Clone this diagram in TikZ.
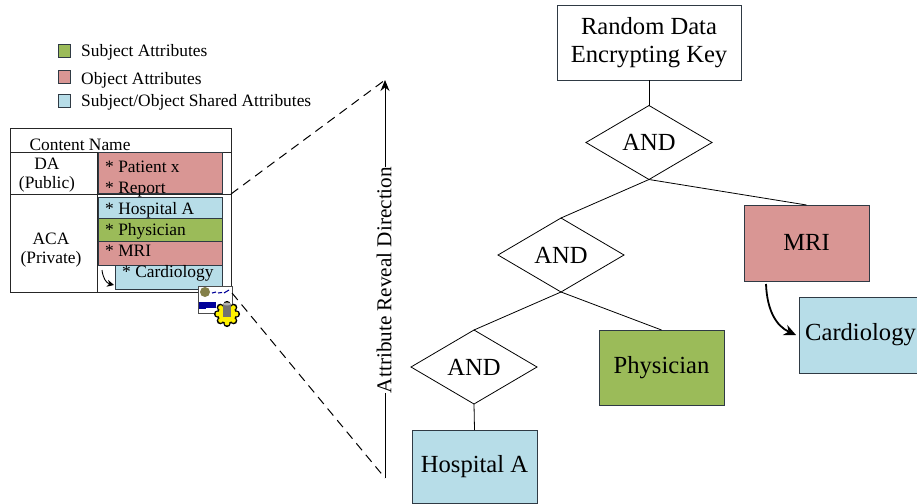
\documentclass[tikz,border=0pt]{standalone}
\usepackage{fontspec}
\setmainfont{Liberation Serif}
\usetikzlibrary{shapes.geometric,arrows.meta}
\definecolor{subj}{HTML}{9BBB59}
\definecolor{obj}{HTML}{D99694}
\definecolor{shared}{HTML}{B7DDE8}
\definecolor{edge}{HTML}{2F3A44}
\newcommand{\bigtxt}{\fontsize{24.6}{28}\selectfont}
\newcommand{\smalltxt}{\fontsize{17.4}{19}\selectfont}
\tikzset{
  bigbox/.style={draw=edge,line width=1pt,outer sep=0,inner sep=0,align=center,font=\bigtxt},
  andgate/.style={draw=black,line width=.8pt,shape=diamond,shape aspect=1.7,minimum width=126pt,minimum height=74pt,inner sep=0,outer sep=0,font=\bigtxt},
  wire/.style={draw=black,line width=.8pt},
  swatch/.style={draw=edge,line width=1pt,minimum width=12pt,minimum height=13pt,inner sep=0,outer sep=0},
  legendtxt/.style={anchor=west,inner sep=0,font=\smalltxt},
  celltxt/.style={anchor=west,inner sep=0,font=\smalltxt},
  headtxt/.style={align=center,inner sep=0,font=\smalltxt},
  attr/.style={draw=edge,line width=1pt,anchor=north west,inner sep=0,outer sep=0},
  curvearrow/.style={line width=1.8pt,-{Stealth[length=12pt,width=11pt]}},
}
\begin{document}
\begin{tikzpicture}[x=1pt,y=-1pt]
\useasboundingbox (0,0) rectangle (917,503);
% legend
\node[swatch,fill=subj] (ls) at (64,51) {};
\node[swatch,fill=obj] (lo) at (64,76.5) {};
\node[swatch,fill=shared] (lh) at (64,100.5) {};
\node[legendtxt] (tls) at (81,52) {Subject Attributes};
\node[legendtxt] (tlo) at (81,80) {Object Attributes};
\node[legendtxt] (tlh) at (81,102) {Subject/Object Shared Attributes};
% table
\draw[line width=1pt,draw=black!85] (10,128) rectangle (231,292);
\draw[line width=1pt,draw=black!85] (10,152) -- (231,152) (10,194) -- (231,194) (97.5,152) -- (97.5,293);
\node[headtxt] (cn) at (80,145) {Content Name};
\node[headtxt] (da) at (47,175) {DA\\(Public)};
\node[headtxt] (aca) at (51,250.5) {ACA\\(Private)};
\path[attr,fill=obj] (98,152) rectangle (222,193);
\path[attr,fill=shared] (98,197) rectangle (222,218);
\path[attr,fill=subj] (98,218) rectangle (222,241);
\path[attr,fill=obj] (98,241) rectangle (222,265);
\path[attr,fill=shared] (115,265) rectangle (222,289);
\node[celltxt] (t1) at (105,166.5) {* Patient x};
\node[celltxt] (t2) at (105,189.5) {* Report};
\node[celltxt] (t3) at (105,210) {* Hospital A};
\node[celltxt] (t4) at (105,231) {* Physician};
\node[celltxt] (t5) at (105,251) {* MRI};
\node[celltxt] (t6) at (122,273.5) {* Cardiology};
\coordinate (sa) at (102,270);
\coordinate (sb) at (114,285);
\draw[line width=.9pt,-{Stealth[length=7pt,width=7pt]}] (sa) .. controls (103,278) and (106,283) .. (sb);
% icon
\draw[line width=.5pt,fill=white,draw=black!70] (198,286) rectangle (232,313);
\fill[black!40!yellow!75!black] (205,292) circle (5pt);
\fill[blue!60!black] (199,302) rectangle (216,308);
\fill[blue!60!black] (206,302) rectangle (199,309);
\draw[blue!60!black,line width=1.1pt] (212,293) -- (216,292) (218,293) -- (222,292.5) (224,293) -- (229,290);
% gear
\foreach \a in {0,45,...,315}{\fill[black] (227,314) ++(\a:9.5) circle (3.6pt);}
\fill[black] (227,314) circle (10pt);
\foreach \a in {0,45,...,315}{\fill[yellow] (227,314) ++(\a:9) circle (2.4pt);}
\fill[yellow] (227,314) circle (8.5pt);
\fill[black!55] (223,304) rectangle (231,317);
\fill[black!30] (227,304) ellipse (4pt and 1.5pt);
% tree
\node[bigbox,minimum width=184pt,minimum height=74pt] (key) at (649,43) {\raisebox{-5pt}{Random Data}\\\raisebox{-5pt}{Encrypting Key}};
\node[andgate] (and1) at (649,142.5) {\raisebox{-1pt}{AND}};
\node[andgate] (and2) at (561,255) {\raisebox{-1pt}{AND}};
\node[andgate] (and3) at (474,367) {\raisebox{-1pt}{AND}};
\node[bigbox,fill=obj,minimum width=125pt,minimum height=76pt] (mri) at (806.5,243) {\raisebox{1pt}{MRI}};
\node[bigbox,fill=shared,minimum width=118pt,minimum height=76pt] (card) at (858.5,335) {\hspace*{4pt}\raisebox{-2pt}{Cardiology}};
\node[bigbox,fill=subj,minimum width=125pt,minimum height=75pt] (phy) at (661.5,367.5) {\raisebox{-1pt}{Physician}};
\node[bigbox,fill=shared,minimum width=125pt,minimum height=73pt] (hosp) at (474.5,466.5) {\raisebox{-2pt}{Hospital A}};
\draw[wire] (key.south) -- (and1.north);
\draw[wire] (and1.south) -- (mri.north);
\draw[wire] (and1.south) -- (and2.north);
\draw[wire] (and2.south) -- (phy.north);
\draw[wire] (and2.south) -- (and3.north);
\draw[wire] (and3.south) -- (hosp.north);
\coordinate (ma) at (766,284);
\coordinate (mb) at (796,335);
\draw[curvearrow] (ma) .. controls (767,310) and (776,326) .. (mb);
% reveal direction
\coordinate (top) at (385,80);
\coordinate (bot) at (385,478);
\coordinate (tl) at (231,194);
\coordinate (bl) at (232,293);
\draw[line width=1pt,-{Stealth[length=11pt,width=9pt]}] (bot) -- (top);
\node[rotate=90,fill=white,inner sep=0,font=\fontsize{21.2}{23}\selectfont] (dir) at (384,280) {Attribute Reveal Direction};
\draw[line width=1pt,dash pattern=on 9pt off 6pt] (tl) -- (top);
\draw[line width=1pt,dash pattern=on 9pt off 6pt] (bl) -- (bot);
\end{tikzpicture}
\end{document}
